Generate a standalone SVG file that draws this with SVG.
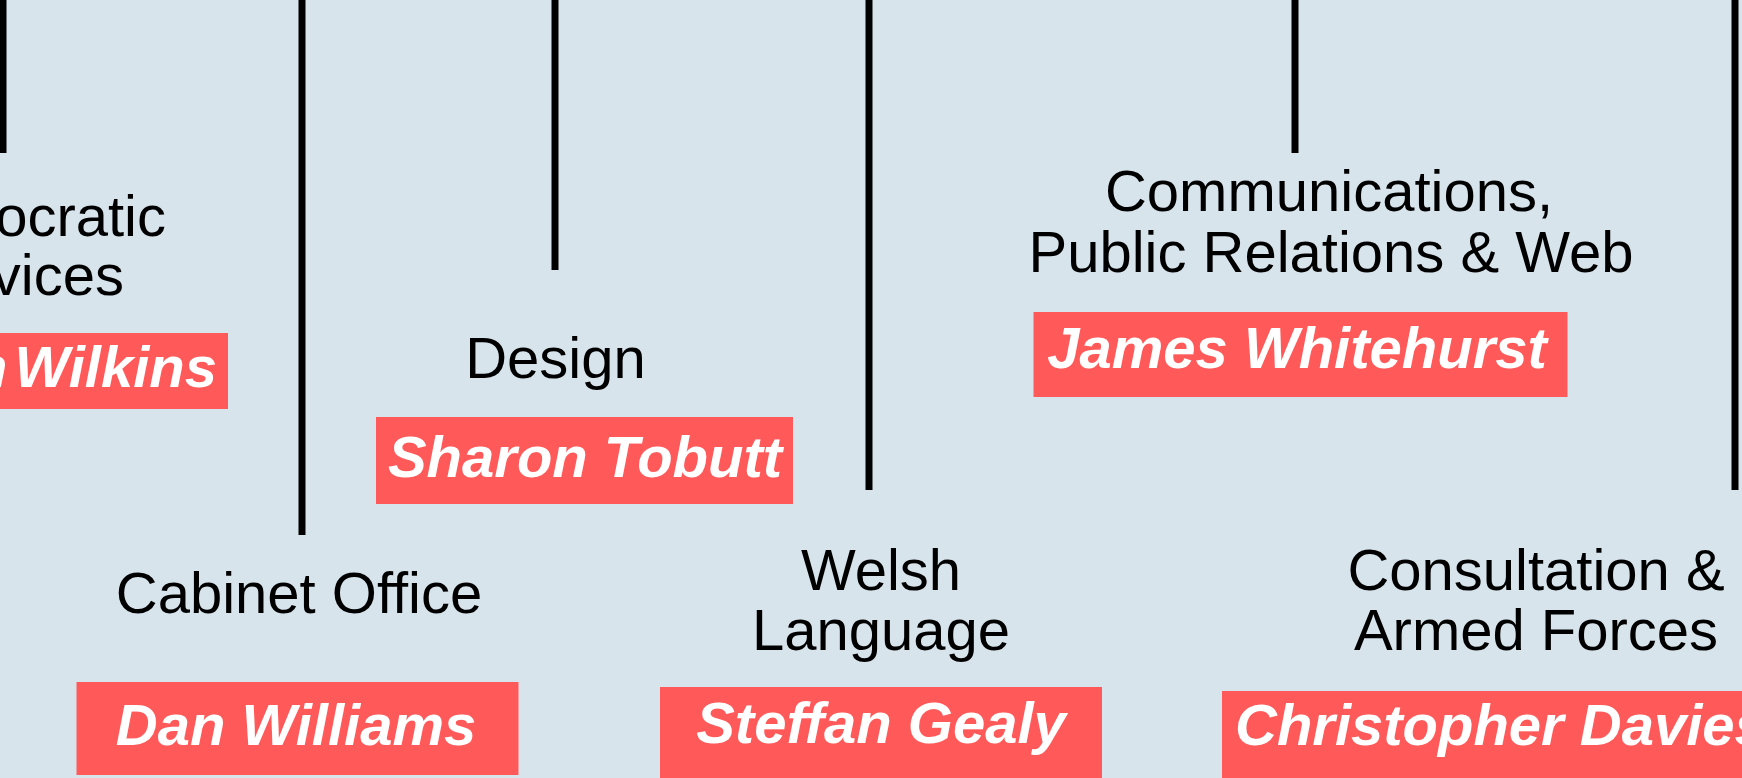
<svg xmlns="http://www.w3.org/2000/svg" width="1742" height="778" viewBox="0 0 1742 778">
<style>
.lbl{font-family:"Liberation Sans",Arial,sans-serif;font-size:58px;fill:#000;text-anchor:middle}
.name{font-family:"Liberation Sans",Arial,sans-serif;font-size:58px;font-weight:bold;font-style:italic;fill:#fff;text-anchor:middle}
.box{fill:#ff5959}
.conn line{stroke:#000;stroke-width:7}
</style>
<rect x="0" y="0" width="1742" height="778" fill="#d8e4ec"/>
<g id="connectors" class="conn">
<line x1="3" y1="0" x2="3" y2="153"/>
<line x1="302" y1="0" x2="302" y2="535"/>
<line x1="555" y1="0" x2="555" y2="270"/>
<line x1="869" y1="0" x2="869" y2="490"/>
<line x1="1295" y1="0" x2="1295" y2="153"/>
<line x1="1735" y1="0" x2="1735" y2="490"/>
</g>
<g id="democratic-services">
<text class="lbl" x="166" y="236" style="text-anchor:end">Democratic</text>
<text class="lbl" x="124" y="295" style="text-anchor:end">Services</text>
<rect class="box" x="-10" y="333" width="238" height="76"/>
<text class="name" x="217" y="387" style="text-anchor:end;word-spacing:-9px">n Wilkins</text>
</g>
<g id="cabinet-office">
<text class="lbl" x="299" y="613">Cabinet Office</text>
<rect class="box" x="76.5" y="682" width="442" height="93"/>
<text class="name" x="296" y="745">Dan Williams</text>
</g>
<g id="design">
<text class="lbl" x="555.5" y="378">Design</text>
<rect class="box" x="376" y="417" width="417" height="87"/>
<text class="name" x="585" y="477">Sharon Tobutt</text>
</g>
<g id="welsh-language">
<text class="lbl" x="881" y="590">Welsh</text>
<text class="lbl" x="881" y="650">Language</text>
<rect class="box" x="660" y="687" width="442" height="100"/>
<text class="name" x="881" y="743">Steffan Gealy</text>
</g>
<g id="communications">
<text class="lbl" x="1329" y="211">Communications,</text>
<text class="lbl" x="1331" y="272">Public Relations &amp; Web</text>
<rect class="box" x="1033.5" y="312" width="534" height="85"/>
<text class="name" x="1297" y="368">James Whitehurst</text>
</g>
<g id="consultation">
<text class="lbl" x="1536" y="590">Consultation &amp;</text>
<text class="lbl" x="1536" y="650">Armed Forces</text>
<rect class="box" x="1222" y="691" width="530" height="100"/>
<text class="name" x="1235" y="745" style="text-anchor:start">Christopher Davies</text>
</g>
</svg>
